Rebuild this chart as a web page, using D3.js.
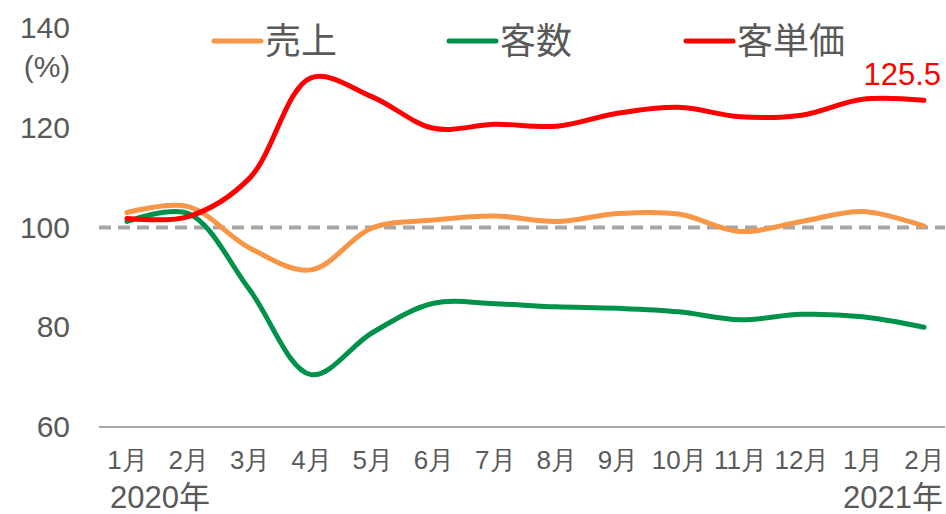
<!DOCTYPE html>
<html><head><meta charset="utf-8">
<script src="https://cdn.jsdelivr.net/npm/d3@7"></script>
<style>
body{margin:0;background:#fff;}
svg{display:block;font-family:"Liberation Sans",Arial,"Noto Sans CJK JP",sans-serif;}
</style></head>
<body><svg id="c" width="946" height="514"></svg>
<script>
const months = ["1月","2月","3月","4月","5月","6月","7月","8月","9月","10月","11月","12月","1月","2月"];
const yearLabels = ["2020年","2021年"];
const yTicks = [60,80,100,120,140];
const sales =  [103.0,104.2,95.9,91.5,99.9,101.5,102.3,101.2,102.8,102.7,99.2,101.2,103.2,100.3];
const customers = [101.2,102.8,87.5,70.5,78.9,84.8,84.7,84.1,83.8,83.1,81.5,82.6,82.1,80.0];
const unitPrice = [101.8,102.2,109.9,130.0,126.2,119.9,120.7,120.3,122.9,124.1,122.2,122.5,125.7,125.5];
const seriesNames = ["売上","客数","客単価"];
const lastLabel = "125.5";

const colors = ["#F79646","#00914A","#FF0000"];
const textColor = "#595959";
const svg = d3.select("#c");

const x = d3.scalePoint().domain(d3.range(months.length)).range([127,924]);
const y = d3.scaleLinear().domain([60,140]).range([427,28]);

// y axis
const ya = svg.append("g").attr("transform","translate(99,0)")
  .call(d3.axisLeft(y).tickValues(yTicks).tickSize(0).tickPadding(29));
ya.select(".domain").remove();
ya.selectAll("text").attr("fill",textColor).attr("font-size",30).attr("font-family",null);
svg.append("text").attr("x",47).attr("y",66).attr("dy","0.35em").attr("text-anchor","middle")
  .attr("fill",textColor).attr("font-size",30).text("(%)");

// x axis
svg.append("line").attr("x1",99).attr("x2",945).attr("y1",y(60)).attr("y2",y(60))
  .attr("stroke","#A6A6A6").attr("stroke-width",2);
const xa = svg.append("g").attr("transform",`translate(0,${y(60)})`)
  .call(d3.axisBottom(x).tickFormat(i=>months[i]).tickSize(0).tickPadding(24));
xa.select(".domain").remove();
xa.selectAll("text").attr("fill",textColor).attr("font-size",26).attr("font-family",null);
svg.append("text").attr("x",110).attr("y",508).attr("fill",textColor)
  .attr("font-size",31).text(yearLabels[0]);
svg.append("text").attr("x",943).attr("y",508).attr("text-anchor","end")
  .attr("fill",textColor).attr("font-size",31).text(yearLabels[1]);

// reference line at 100
svg.append("line").attr("x1",99).attr("x2",945).attr("y1",y(100)).attr("y2",y(100))
  .attr("stroke","#A6A6A6").attr("stroke-width",4).attr("stroke-dasharray","12,7");

const line = d3.line().x((d,i)=>x(i)).y(d=>y(d)).curve(d3.curveCatmullRom.alpha(0.5));
[sales,customers,unitPrice].forEach((s,k)=>{
  svg.append("path").attr("d",line(s)).attr("fill","none").attr("stroke",colors[k])
    .attr("stroke-width",5).attr("stroke-linecap","round").attr("stroke-linejoin","round");
});

// last value label
svg.append("text").attr("x",941).attr("y",y(unitPrice[unitPrice.length-1])-26).attr("dy","0.35em")
  .attr("text-anchor","end").attr("fill","#FF0000").attr("font-size",31).text(lastLabel);

// legend
const legX = [214,449,686];
seriesNames.forEach((n,k)=>{
  svg.append("line").attr("x1",legX[k]).attr("x2",legX[k]+47).attr("y1",41).attr("y2",41)
    .attr("stroke",colors[k]).attr("stroke-width",5).attr("stroke-linecap","round");
  svg.append("text").attr("x",legX[k]+51).attr("y",41).attr("dy","0.36em").attr("fill",textColor)
    .attr("font-size",36).text(n);
});
</script></body></html>
